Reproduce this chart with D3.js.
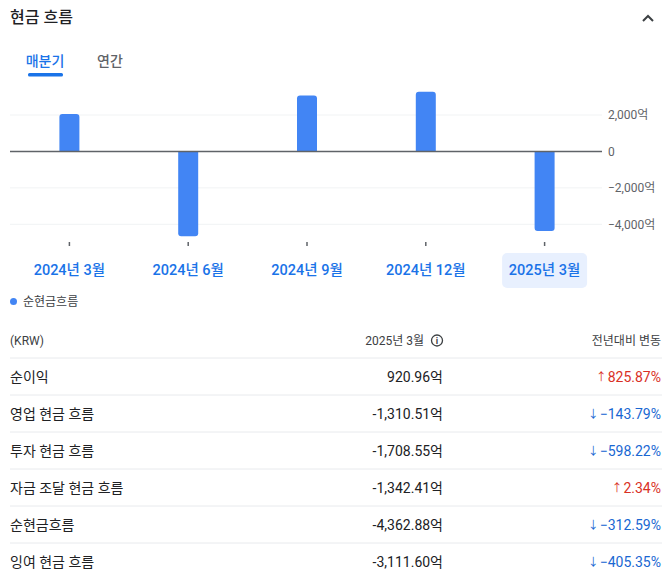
<!DOCTYPE html>
<html>
<head>
<meta charset="utf-8">
<script src="https://cdn.jsdelivr.net/npm/d3@7"></script>
<style>
  body { margin: 0; background: #fff; }
  svg text { font-family: Roboto, "Noto Sans CJK KR", sans-serif; }
</style>
</head>
<body>
<script>
// chart data
var quarters = ['2024년 3월', '2024년 6월', '2024년 9월', '2024년 12월', '2025년 3월'];
var netCash = [2060, -4650, 3070, 3270, -4362.88];   // 억 KRW
var yTicks = [2000, 0, -2000, -4000];
var selectedQuarter = '2025년 3월';

// table data
var rowLabels = ['순이익', '영업 현금 흐름', '투자 현금 흐름', '자금 조달 현금 흐름', '순현금흐름', '잉여 현금 흐름'];
var rowValues = ['920.96억', '-1,310.51억', '-1,708.55억', '-1,342.41억', '-4,362.88억', '-3,111.60억'];
var rowChanges = [825.87, -143.79, -598.22, 2.34, -312.59, -405.35];

var W = 672, H = 588;
var svg = d3.select('body').append('svg')
    .attr('width', W)
    .attr('height', H);

// header
svg.append('text')
    .attr('x', 10).attr('y', 23)
    .attr('font-size', 16).attr('font-weight', 500)
    .attr('fill', '#202124')
    .text('현금 흐름');

svg.append('path')
    .attr('d', 'M643,21 L648,16 L653,21')
    .attr('fill', 'none')
    .attr('stroke', '#3c4043')
    .attr('stroke-width', 2);

// tabs
svg.append('text')
    .attr('x', 45).attr('y', 66)
    .attr('text-anchor', 'middle')
    .attr('font-size', 14).attr('font-weight', 500)
    .attr('fill', '#1a73e8')
    .text('매분기');
svg.append('rect')
    .attr('x', 28).attr('y', 73)
    .attr('width', 35).attr('height', 3.5)
    .attr('rx', 1.5)
    .attr('fill', '#1a73e8');
svg.append('text')
    .attr('x', 110).attr('y', 66)
    .attr('text-anchor', 'middle')
    .attr('font-size', 14).attr('font-weight', 500)
    .attr('fill', '#5f6368')
    .text('연간');

// scales
var x = d3.scaleBand()
    .domain(quarters)
    .range([10, 604]);

var y = d3.scaleLinear()
    .domain([-4000, 2000])
    .range([224.3, 115]);

var barW = 20;

// grid lines
svg.selectAll('line.grid')
    .data(yTicks.filter(function (d) { return d !== 0; }))
    .enter()
    .append('line')
    .attr('class', 'grid')
    .attr('x1', 10).attr('x2', 602)
    .attr('y1', function (d) { return y(d); })
    .attr('y2', function (d) { return y(d); })
    .attr('stroke', '#f1f3f4')
    .attr('stroke-width', 1);

// y axis labels on the right
var yAxis = d3.axisRight(y)
    .tickValues(yTicks)
    .tickSize(0)
    .tickPadding(6)
    .tickFormat(function (d) { return d === 0 ? '0' : d3.format(',')(d) + '억'; });

var yG = svg.append('g')
    .attr('transform', 'translate(602,0)')
    .call(yAxis);
yG.select('.domain').remove();
yG.selectAll('text')
    .attr('font-size', 12)
    .attr('fill', '#5f6368')
    .style('font-family', 'Roboto, "Noto Sans CJK KR", sans-serif');

// bars: rounded only on the far end
function barPath(d, i) {
    var cx = x(quarters[i]) + x.bandwidth() / 2;
    var x0 = cx - barW / 2, x1 = cx + barW / 2;
    var y0 = y(0), y1 = y(d);
    var r = 3;
    var s = d >= 0 ? 1 : -1;
    return 'M' + x0 + ',' + y0 +
        'L' + x0 + ',' + (y1 + s * r) +
        'Q' + x0 + ',' + y1 + ' ' + (x0 + r) + ',' + y1 +
        'L' + (x1 - r) + ',' + y1 +
        'Q' + x1 + ',' + y1 + ' ' + x1 + ',' + (y1 + s * r) +
        'L' + x1 + ',' + y0 + 'Z';
}

svg.selectAll('path.bar')
    .data(netCash)
    .enter()
    .append('path')
    .attr('class', 'bar')
    .attr('d', barPath)
    .attr('fill', '#4285f4');

// zero line
svg.append('line')
    .attr('x1', 10).attr('x2', 602)
    .attr('y1', y(0)).attr('y2', y(0))
    .attr('stroke', '#5f6368')
    .attr('stroke-width', 1.5);

// x ticks and labels
var xAxis = d3.axisBottom(x)
    .tickSize(4)
    .tickPadding(19);

var xG = svg.append('g')
    .attr('transform', 'translate(0,242)')
    .call(xAxis);
xG.select('.domain').remove();
xG.selectAll('line')
    .attr('stroke', '#5f6368')
    .attr('stroke-width', 1.5);

// highlight behind the selected quarter
xG.selectAll('.tick')
    .filter(function (d) { return d === selectedQuarter; })
    .insert('rect', 'text')
    .attr('x', -42.5).attr('y', 11)
    .attr('width', 85).attr('height', 35)
    .attr('rx', 5)
    .attr('fill', '#e8f0fe');

xG.selectAll('text')
    .attr('font-size', 14.5)
    .attr('font-weight', 500)
    .attr('fill', '#1a73e8')
    .style('font-family', 'Roboto, "Noto Sans CJK KR", sans-serif');

// legend
svg.append('circle')
    .attr('cx', 13.5).attr('cy', 301.5)
    .attr('r', 3.5)
    .attr('fill', '#4285f4');
svg.append('text')
    .attr('x', 23).attr('y', 305.5)
    .attr('font-size', 12)
    .attr('fill', '#3c4043')
    .text('순현금흐름');

// table header
svg.append('text')
    .attr('x', 10).attr('y', 345)
    .attr('font-size', 12)
    .attr('fill', '#3c4043')
    .text('(KRW)');
svg.append('text')
    .attr('x', 424).attr('y', 345)
    .attr('text-anchor', 'end')
    .attr('font-size', 12)
    .attr('fill', '#3c4043')
    .text('2025년 3월');
svg.append('circle')
    .attr('cx', 437).attr('cy', 340.5)
    .attr('r', 5.5)
    .attr('fill', 'none')
    .attr('stroke', '#3c4043')
    .attr('stroke-width', 1.3);
svg.append('text')
    .attr('x', 437).attr('y', 344)
    .attr('text-anchor', 'middle')
    .attr('font-size', 9).attr('font-weight', 700)
    .attr('fill', '#3c4043')
    .text('i');
svg.append('text')
    .attr('x', 661).attr('y', 345)
    .attr('text-anchor', 'end')
    .attr('font-size', 12)
    .attr('fill', '#3c4043')
    .text('전년대비 변동');

// table rows
var rowY = d3.scaleBand()
    .domain(rowLabels)
    .range([358, 580]);

var rows = svg.selectAll('g.row')
    .data(rowLabels)
    .enter()
    .append('g')
    .attr('class', 'row')
    .attr('transform', function (d) { return 'translate(0,' + rowY(d) + ')'; });

rows.append('line')
    .attr('x1', 10).attr('x2', 662)
    .attr('y1', 0).attr('y2', 0)
    .attr('stroke', '#e8eaed');

rows.append('text')
    .attr('x', 10).attr('y', 24)
    .attr('font-size', 14)
    .attr('fill', '#202124')
    .text(function (d) { return d; });

rows.append('text')
    .attr('x', 443).attr('y', 24)
    .attr('text-anchor', 'end')
    .attr('font-size', 14)
    .attr('fill', '#202124')
    .text(function (d, i) { return rowValues[i]; });

var changeText = rows.append('text')
    .attr('x', 661).attr('y', 24)
    .attr('text-anchor', 'end')
    .attr('font-size', 14)
    .attr('fill', function (d, i) { return rowChanges[i] >= 0 ? '#d93025' : '#1967d2'; });

// small arrow then the percentage
changeText.append('tspan')
    .attr('font-size', 11)
    .attr('dy', -1)
    .text(function (d, i) { return rowChanges[i] >= 0 ? '↑' : '↓'; });
changeText.append('tspan')
    .attr('dy', 1)
    .attr('dx', 1)
    .text(function (d, i) { return d3.format('.2f')(rowChanges[i]) + '%'; });
</script>
</body>
</html>
